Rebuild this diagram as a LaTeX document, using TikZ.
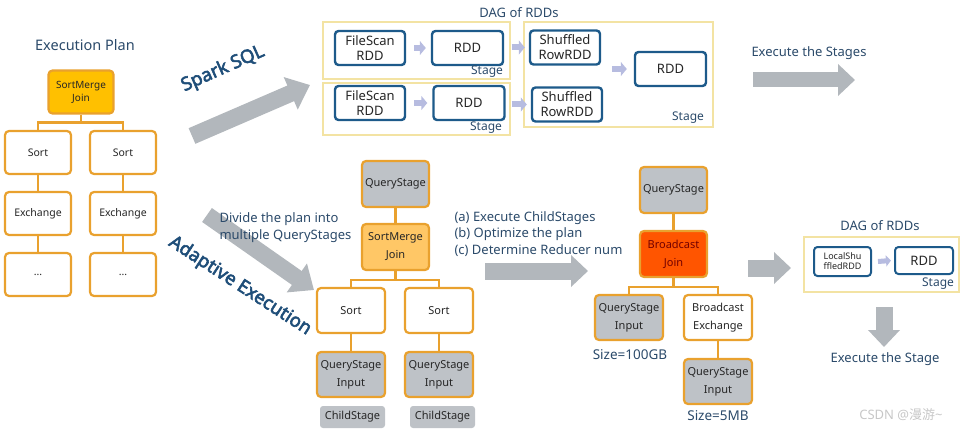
\documentclass[tikz,border=0pt]{standalone}
\usepackage{fontspec}
\setmainfont{Noto Sans}
\newfontfamily\titlefont{Noto Sans}[FakeBold=3]
\newfontfamily\cjkfont{Noto Sans CJK SC}
\usetikzlibrary{arrows.meta}
\definecolor{obord}{HTML}{E9A12E}
\definecolor{ogold}{HTML}{FFC000}
\definecolor{olight}{HTML}{FFC766}
\definecolor{ored}{HTML}{FF5500}
\definecolor{gfill}{HTML}{BEC2C7}
\definecolor{bblue}{HTML}{1D5A8A}
\definecolor{syel}{HTML}{F3E3A3}
\definecolor{tdark}{HTML}{1F4E79}
\definecolor{ttext}{HTML}{2B4A6A}
\definecolor{agray}{HTML}{B2B7BC}
\definecolor{alav}{HTML}{B7BCE0}
\begin{document}
\begin{tikzpicture}[x=1pt,y=-1pt,
  obox/.style={draw=obord, line width=2.2pt, rounded corners=4pt, fill=white, align=center,
    inner sep=0pt, minimum width=#1, minimum height=43pt, font=\fontsize{10.5}{13}\selectfont, text=black!85},
  obox/.default=66pt,
  mbox/.style={obox=#1, minimum height=45pt, font=\fontsize{11}{18}\selectfont},
  mbox/.default=68pt,
  gbox/.style={fill=gfill},
  childbox/.style={fill=gfill, rounded corners=3pt, minimum width=65pt, minimum height=22pt,
    inner sep=0pt, font=\fontsize{11}{12}\selectfont, text=black!85},
  bbox/.style={draw=bblue, line width=2.4pt, rounded corners=3.5pt, fill=white, align=center,
    inner sep=0pt, minimum width=#1, minimum height=34pt, font=\fontsize{13}{15}\selectfont, text=black!85},
  bbox/.default=70pt,
  stagebox/.style={draw=syel, line width=1.4pt, inner sep=0pt},
  stagelbl/.style={font=\fontsize{12}{13}\selectfont, text=ttext},
  lbl/.style={font=\fontsize{13}{15}\selectfont, text=ttext},
  conn/.style={draw=obord, line width=2.2pt},
  bigarrow/.style={draw=agray, line width=#1, -{Triangle[length=17pt,width=31pt]}},
  bigarrow/.default=17pt,
  smallarrow/.style={draw=alav, line width=6pt, -{Triangle[length=6pt,width=14pt]}},
  title/.style={font=\titlefont\fontsize{18.5}{20}\selectfont, text=tdark}
]
\useasboundingbox (0,0) rectangle (967,433);

% ---------------- Left: Execution plan ----------------
\node[lbl, font=\fontsize{14.5}{16}\selectfont] (eptitle) at (85,45) {Execution Plan};
\node[obox=65pt, fill=ogold, font=\fontsize{10}{13}\selectfont] (lj) at (81,92) {SortMerge\\Join};
\node[obox] (ls1) at (38,152.5) {Sort};
\node[obox] (ls2) at (123,152.5) {Sort};
\node[obox] (le1) at (38,213.5) {Exchange};
\node[obox] (le2) at (123,213.5) {Exchange};
\node[obox] (ld1) at (38,274.5) {...};
\node[obox] (ld2) at (123,274.5) {...};
\draw[conn] (lj.south) -- ++(0,8) -| (ls1.north);
\draw[conn] (lj.south) -- ++(0,8) -| (ls2.north);
\draw[conn] (ls1) -- (le1);
\draw[conn] (ls2) -- (le2);
\draw[conn] (le1) -- (ld1);
\draw[conn] (le2) -- (ld2);

% ---------------- Spark SQL arrow ----------------
\coordinate (sqlA) at (192,136);
\coordinate (sqlB) at (310,85);
\draw[bigarrow=17pt, -{Triangle[length=21pt,width=34pt]}] (sqlA) -- (sqlB);
\node[title, rotate=24] (sparksql) at (223,69) {Spark SQL};

% ---------------- Top DAG of RDDs ----------------
\node[lbl] (dagtitle) at (519,13) {DAG of RDDs};
\node[stagebox, minimum width=187pt, minimum height=57pt] (st1) at (416.5,50.5) {};
\node[stagebox, minimum width=187pt, minimum height=52pt] (st2) at (416.5,109) {};
\node[stagebox, minimum width=189pt, minimum height=105pt] (st3) at (618.5,74.5) {};
\node[bbox] (fs1) at (370,48) {FileScan\\RDD};
\node[bbox=71pt] (r1) at (467.5,48) {RDD};
\node[bbox] (fs2) at (370,103) {FileScan\\RDD};
\node[bbox=71pt] (r2) at (469,103) {RDD};
\node[bbox] (sr1) at (565,47.5) {Shuffled\\RowRDD};
\node[bbox] (sr2) at (567,104.5) {Shuffled\\RowRDD};
\node[bbox=71pt] (r3) at (670.5,69) {RDD};
\node[stagelbl] (sl1) at (487,72) {Stage};
\node[stagelbl] (sl2) at (486,128) {Stage};
\node[stagelbl] (sl3) at (688,118) {Stage};
\draw[smallarrow] ([xshift=8pt]fs1.east) -- ([xshift=-5pt]r1.west);
\draw[smallarrow] ([xshift=8pt]fs2.east) -- ([xshift=-5pt]r2.west);
\draw[smallarrow] ([xshift=1pt]st1.east |- sr1.west) -- ([xshift=-4pt]sr1.west);
\draw[smallarrow] ([xshift=1pt]st2.east |- sr2.west) -- ([xshift=-4pt]sr2.west);
\draw[smallarrow] ([xshift=-22pt]r3.west) -- ([xshift=-7pt]r3.west);

% ---------------- Execute the Stages ----------------
\node[lbl] (exstages) at (809,53) {Execute the Stages};
\coordinate (esA) at (753,80);
\coordinate (esB) at (855,80);
\draw[bigarrow=15pt] (esA) -- (esB);

% ---------------- Adaptive Execution ----------------
\coordinate (aeA) at (207,215);
\coordinate (aeB) at (314,290);
\draw[bigarrow=17pt, -{Triangle[length=21pt,width=34pt]}] (aeA) -- (aeB);
\node[title, rotate=-33] (adaptive) at (240,286) {Adaptive Execution};
\node[lbl, anchor=north west, align=left, font=\fontsize{13}{17}\selectfont] (divide) at (216,209)
  {Divide the plan into\\multiple QueryStages};

% ---------------- Middle tree ----------------
\node[mbox=67pt, gbox, minimum height=46pt] (mqs) at (395.5,184) {QueryStage};
\node[mbox=67pt, fill=olight, minimum height=46pt] (msmj) at (395.5,247) {SortMerge\\Join};
\node[mbox] (ms1) at (351,310.5) {Sort};
\node[mbox] (ms2) at (439,310.5) {Sort};
\node[mbox, gbox] (mi1) at (351,374.5) {QueryStage\\Input};
\node[mbox, gbox] (mi2) at (439,374.5) {QueryStage\\Input};
\node[childbox] (mc1) at (352.5,417) {ChildStage};
\node[childbox] (mc2) at (442.5,417) {ChildStage};
\draw[conn] (mqs) -- (msmj);
\draw[conn] (msmj.south) -- ++(0,9) -| (ms1.north);
\draw[conn] (msmj.south) -- ++(0,9) -| (ms2.north);
\draw[conn] (ms1) -- (mi1);
\draw[conn] (ms2) -- (mi2);

% ---------------- Middle arrow ----------------
\node[lbl, anchor=north west, align=left, font=\fontsize{13}{16.5}\selectfont] (steps) at (451,208)
  {(a) Execute ChildStages\\(b) Optimize the plan\\(c) Determine Reducer num};
\coordinate (maA) at (485,271);
\coordinate (maB) at (588,271);
\draw[bigarrow=17pt] (maA) -- (maB);

% ---------------- Right tree ----------------
\node[mbox=67pt, gbox, minimum height=46pt] (rqs) at (673.5,190) {QueryStage};
\node[mbox=67pt, fill=ored, minimum height=46pt, text=red!45!black] (rbj) at (673.5,254) {Broadcast\\Join};
\node[mbox, gbox] (ri1) at (629,317.5) {QueryStage\\Input};
\node[mbox] (rbe) at (718,317.5) {Broadcast\\Exchange};
\node[mbox, gbox] (ri2) at (718,381.5) {QueryStage\\Input};
\draw[conn] (rqs) -- (rbj);
\draw[conn] (rbj.south) -- ++(0,9) -| (ri1.north);
\draw[conn] (rbj.south) -- ++(0,9) -| (rbe.north);
\draw[conn] (rbe) -- (ri2);
\node[lbl, font=\fontsize{13.5}{15}\selectfont] (sz1) at (630,355) {Size=100GB};
\node[lbl, font=\fontsize{13.5}{15}\selectfont] (sz2) at (718,416) {Size=5MB};

% ---------------- Right arrow and DAG ----------------
\coordinate (raA) at (748,268);
\coordinate (raB) at (791,268);
\draw[bigarrow=17pt] (raA) -- (raB);
\node[lbl] (dag2title) at (880,226) {DAG of RDDs};
\node[stagebox, minimum width=155pt, minimum height=55pt] (st4) at (881.5,264.5) {};
\node[bbox=57pt, minimum height=29pt, line width=2pt, font=\fontsize{9}{10}\selectfont] (lsr) at (842.5,261.5) {LocalShu\\ffledRDD};
\node[bbox=58pt, minimum height=27pt, line width=2pt] (r4) at (924,260.5) {RDD};
\node[stagelbl] (sl4) at (938,284) {Stage};
\draw[smallarrow, line width=5pt, -{Triangle[length=5pt,width=11pt]}] ([xshift=6pt]lsr.east) -- ([xshift=-3pt]r4.west);
\coordinate (daA) at (884,307);
\coordinate (daB) at (884,347);
\draw[bigarrow=17pt] (daA) -- (daB);
\node[lbl] (exstage) at (885,359) {Execute the Stage};

% watermark
\node[font=\fontsize{13}{15}\selectfont, text=black!22] (wm) at (901,415) {CSDN @{\cjkfont 漫游}\textasciitilde};
\end{tikzpicture}
\end{document}
